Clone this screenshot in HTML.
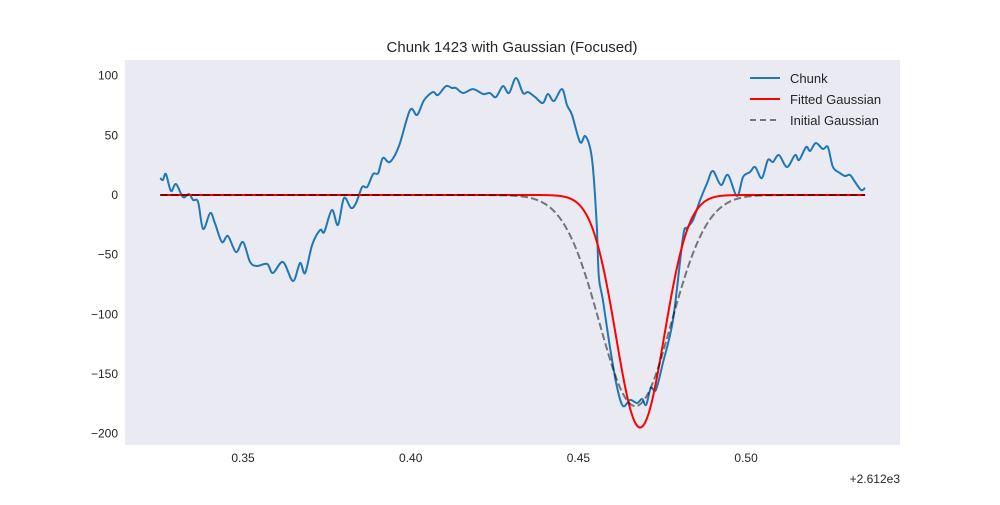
<!DOCTYPE html>
<html><head><meta charset="utf-8"><style>
body{margin:0;background:#fff;font-family:"Liberation Sans",sans-serif}
text{font-family:"Liberation Sans",sans-serif}
</style></head><body>
<svg id="chart" width="1000" height="500" xmlns="http://www.w3.org/2000/svg">
<rect x="0" y="0" width="1000" height="500" fill="#fff"/>
<rect x="125" y="60" width="775" height="385" fill="#eaeaf2"/>
<text x="512" y="52" font-size="15" text-anchor="middle" fill="#262626">Chunk 1423 with Gaussian (Focused)</text>
<g id="xticks"></g><g id="yticks"></g>
<text x="900" y="483" font-size="12" text-anchor="end" fill="#262626">+2.612e3</text>
<g id="series"></g>
<g>
<line x1="750" y1="78" x2="780" y2="78" stroke="#1f77b4" stroke-width="2"/>
<text x="790" y="83" font-size="13" fill="#262626">Chunk</text>
<line x1="750" y1="99" x2="780" y2="99" stroke="#ff0000" stroke-width="2"/>
<text x="790" y="104" font-size="13" fill="#262626">Fitted Gaussian</text>
<line x1="750" y1="120" x2="780" y2="120" stroke="#777" stroke-width="2" stroke-dasharray="6,4"/>
<text x="790" y="125" font-size="13" fill="#262626">Initial Gaussian</text>
</g>
</svg>
<script>
const chunkX=[0.3253,0.3261,0.3270,0.3285,0.3300,0.3321,0.3339,0.3351,0.3366,0.3381,0.3402,0.3416,0.3437,0.3455,0.3479,0.3500,0.3521,0.3542,0.3572,0.3589,0.3619,0.3649,0.3670,0.3685,0.3706,0.3730,0.3742,0.3765,0.3783,0.3801,0.3822,0.3837,0.3855,0.3870,0.3888,0.3903,0.3917,0.3938,0.3965,0.3998,0.4019,0.4040,0.4066,0.4081,0.4105,0.4123,0.4135,0.4156,0.4186,0.4216,0.4236,0.4254,0.4275,0.4293,0.4314,0.4335,0.4350,0.4371,0.4394,0.4409,0.4427,0.4451,0.4466,0.4481,0.4505,0.4520,0.4535,0.4544,0.4555,0.4561,0.4573,0.4594,0.4615,0.4633,0.4654,0.4675,0.4690,0.4702,0.4716,0.4731,0.4752,0.4782,0.4812,0.4824,0.4842,0.4863,0.4884,0.4901,0.4925,0.4946,0.4973,0.4991,0.5012,0.5027,0.5047,0.5065,0.5080,0.5098,0.5122,0.5146,0.5158,0.5179,0.5191,0.5208,0.5229,0.5244,0.5259,0.5280,0.5295,0.5310,0.5325,0.5343,0.5355];
const chunkY=[14.2,12.6,17.6,3.4,9.2,-1.7,0.8,-4.2,-5.9,-28.5,-15.1,-23.5,-39.4,-34.4,-47.8,-39.4,-56.2,-59.5,-57.8,-65.4,-56.2,-72.1,-57.0,-65.4,-41.9,-29.3,-31.0,-12.6,-25.1,-2.5,-10.9,-6.7,6.7,6.7,17.6,18.4,31.0,27.7,41.1,71.2,67.1,79.6,86.3,83.8,91.3,89.7,89.7,85.5,88.8,84.7,85.5,82.1,91.3,85.5,98.1,85.5,86.3,82.1,77.1,84.7,78.8,88.8,75.4,67.1,44.4,49.5,39.4,20.9,-26.8,-68.7,-88.0,-127.4,-160.9,-176.9,-171.8,-174.4,-171.0,-176.0,-161.8,-163.5,-140.8,-104.8,-35.2,-27.7,-20.9,-4.2,10.1,20.1,8.4,16.8,-0.8,15.1,19.3,23.5,14.2,29.3,27.7,33.5,23.5,33.5,29.3,40.2,36.9,43.6,38.6,40.2,23.5,18.4,15.9,16.8,10.9,4.2,5.9];
const fitParams=[-195,0.4684,0.0072];
const initParams=[-177,0.4670,0.0107];
const xTicks=[0.35,0.40,0.45,0.50];
const xTickLabels=["0.35","0.40","0.45","0.50"];
const yTicks=[100,50,0,-50,-100,-150,-200];
const yTickLabels=["100","50","0","\u221250","\u2212100","\u2212150","\u2212200"];
const X0=0.3148,X1=0.5459,Y0=-209.6,Y1=113.2;
const sx=v=>125+(v-X0)/(X1-X0)*775;
const sy=v=>445-(v-Y0)/(Y1-Y0)*385;
const NS="http://www.w3.org/2000/svg";
function mk(tag,attrs,parent){const e=document.createElementNS(NS,tag);for(const k in attrs)e.setAttribute(k,attrs[k]);parent.appendChild(e);return e;}
const xg=document.getElementById('xticks'),yg=document.getElementById('yticks'),sg=document.getElementById('series');
xTicks.forEach((t,i)=>{const e=mk('text',{x:sx(t),y:462,'font-size':12,'text-anchor':'middle',fill:'#262626'},xg);e.textContent=xTickLabels[i];

});
yTicks.forEach((t,i)=>{const e=mk('text',{x:118,y:sy(t)+4,'font-size':12,'text-anchor':'end',fill:'#262626'},yg);e.textContent=yTickLabels[i];

});
function smooth(xs,ys){let p=[];for(let i=0;i<xs.length;i++)p.push([sx(xs[i]),sy(ys[i])]);
let d='M'+p[0][0]+','+p[0][1];for(let i=0;i<p.length-1;i++){const a=p[Math.max(0,i-1)],b=p[i],c=p[i+1],e=p[Math.min(p.length-1,i+2)];
d+=' C'+(b[0]+(c[0]-a[0])/6)+','+(b[1]+(c[1]-a[1])/6)+' '+(c[0]-(e[0]-b[0])/6)+','+(c[1]-(e[1]-b[1])/6)+' '+c[0]+','+c[1];}return d;}
function gauss(pr){let d='';const a=chunkX[0],b=chunkX[chunkX.length-1];for(let i=0;i<=400;i++){const x=a+(b-a)*i/400;const y=pr[0]*Math.exp(-((x-pr[1])**2)/(2*pr[2]**2));d+=(i?'L':'M')+sx(x).toFixed(2)+','+sy(y).toFixed(2);}return d;}
const c=mk('path',{d:smooth(chunkX,chunkY),fill:'none',stroke:'#1f77b4','stroke-width':2},sg);


const f=mk('path',{d:gauss(fitParams),fill:'none',stroke:'#ff0000','stroke-width':2},sg);


const g=mk('path',{d:gauss(initParams),fill:'none',stroke:'#000','stroke-opacity':0.5,'stroke-width':2,'stroke-dasharray':'7.4,3.2'},sg);


</script>
</body></html>
